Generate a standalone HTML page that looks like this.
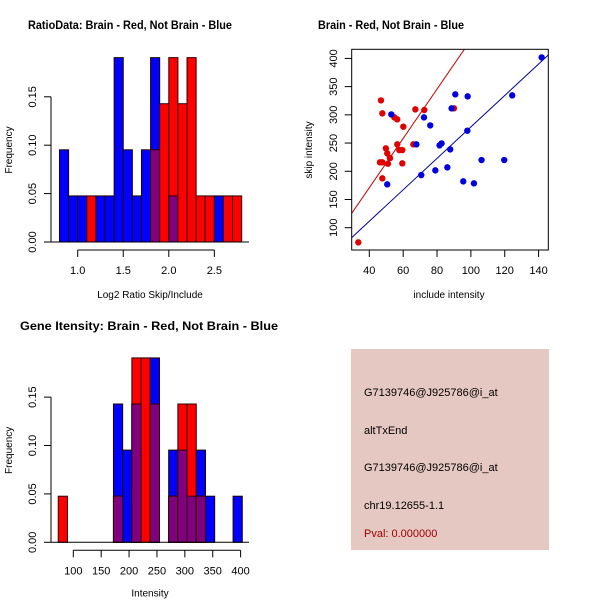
<!DOCTYPE html>
<html><head><meta charset="utf-8"><style>
body{margin:0;background:#fff;}
svg{display:block;font-family:"Liberation Sans",sans-serif;}
</style></head><body>
<svg id="s" width="600" height="600" xmlns="http://www.w3.org/2000/svg">
<rect width="600" height="600" fill="#fff"/>
<text x="28" y="29" font-size="12" font-weight="bold" textLength="204" lengthAdjust="spacingAndGlyphs">RatioData: Brain - Red, Not Brain - Blue</text>
<text x="318" y="29" font-size="12" font-weight="bold" textLength="146" lengthAdjust="spacingAndGlyphs">Brain - Red, Not Brain - Blue</text>
<text x="20" y="330" font-size="12" font-weight="bold" textLength="258" lengthAdjust="spacingAndGlyphs">Gene Itensity: Brain - Red, Not Brain - Blue</text>
<g id="g1"></g>
<g id="g2"></g>
<g id="g3"></g>
<g>
<rect x="351" y="349" width="198" height="201" fill="#e6c8c2"/>
<text x="364" y="396" font-size="11">G7139746@J925786@i_at</text>
<text x="364" y="434" font-size="11">altTxEnd</text>
<text x="364" y="471" font-size="11">G7139746@J925786@i_at</text>
<text x="364" y="509" font-size="11">chr19.12655-1.1</text>
<text x="364" y="537" font-size="11" fill="#a00000">Pval: 0.000000</text>
</g>
</svg>
<script>
// Ratio histogram data (counts out of 21)
const ratioBins = [0.8,0.9,1.0,1.1,1.2,1.3,1.4,1.5,1.6,1.7,1.8,1.9,2.0,2.1,2.2,2.3,2.4,2.5,2.6,2.7];
const ratioBlue = [2,1,1,0,1,1,4,2,1,2,4,0,1,0,0,0,0,1,0,0];
const ratioRed  = [0,0,0,1,0,0,0,0,0,0,2,3,4,3,4,1,1,0,1,1];
const ratioXTicks = [1.0,1.5,2.0,2.5];
const freqTicks = [0,0.05,0.10,0.15];
// Intensity histogram data
const intBins = [73,89.5,106,122.5,139,155.5,172,188.5,205,221.5,238,254.5,271,287.5,304,320.5,337,353.5,370,386.5];
const intBlue = [0,0,0,0,0,0,3,2,3,0,4,0,2,2,1,2,1,0,0,1];
const intRed  = [1,0,0,0,0,0,1,0,4,4,3,0,1,3,3,1,0,0,0,0];
const intXTicks = [100,150,200,250,300,350,400];
// Scatter data
const redInc  = [33.5,46.9,47.7,46.3,47.7,47.7,49.8,50.6,51.0,52.2,54.8,56.5,56.5,57.7,59.5,59.5,60.1,67.2,66,72.5,90];
const redSkip = [74,325.6,302.6,215.8,215.8,187.4,240.6,231.7,213.4,223.4,295.5,292,247.7,237.6,237.6,214,279,309.7,247.7,308.5,311.5];
const blueInc  = [50.6,53,67.8,70.7,72.3,76,79,81.5,82.7,86.1,87.8,88.6,90.8,95.5,97.9,98.1,101.8,106.3,119.7,124.4,141.8];
const blueSkip = [176.8,300.8,247.7,193.3,295.5,281.3,201.6,245.9,249.4,206.9,238.8,311.5,336.3,182.1,271.9,332.7,178.6,219.9,219.9,334.5,401.8];
const redFit = [-4.0,4.37];
const blueFit = [0.0,2.786];
const scXTicks = [40,60,80,100,120,140];
const scYTicks = [100,150,200,250,300,350,400];

const NS="http://www.w3.org/2000/svg";
function mk(p,t,a){const e=document.createElementNS(NS,t);for(const k in a)e.setAttribute(k,a[k]);p.appendChild(e);return e;}
const N=21;
function hist(g,bins,w,blue,red,xs,y0,xticks,xlabel,fmt,xlOff){
  const ys=v=>y0-v*968;
  bins.forEach((b,i)=>{
    const x=xs(b),x2=xs(b+w);
    const hb=blue[i]/N,hr=red[i]/N,m=Math.min(hb,hr);
    if(hb>0){const r=mk(g,'rect',{x:x,y:ys(hb),width:x2-x,height:y0-ys(hb),fill:'#0000ff',stroke:'#200000','stroke-width':1});
      
      }
    if(hr>0){const r=mk(g,'rect',{x:x,y:ys(hr),width:x2-x,height:y0-ys(hr),fill:'#ff0000',stroke:'#300000','stroke-width':1});
      
      }
    if(m>0){const r=mk(g,'rect',{x:x,y:ys(m),width:x2-x,height:y0-ys(m),fill:'#800080',stroke:'#300000','stroke-width':1});
      
      }
  });
  mk(g,'line',{x1:51,y1:y0,x2:249,y2:y0,stroke:'#000'});
  mk(g,'line',{x1:51,y1:ys(0),x2:51,y2:ys(0.15),stroke:'#000'});
  freqTicks.forEach(t=>{const y=ys(t);mk(g,'line',{x1:44,y1:y,x2:51,y2:y,stroke:'#000'});
    const tx=mk(g,'text',{x:36,y:y,'font-size':11,'text-anchor':'middle',transform:`rotate(-90 36 ${y})`});tx.textContent=t.toFixed(2);
    
    });
  const ax=y0+8;
  mk(g,'line',{x1:xs(xticks[0]),y1:ax,x2:xs(xticks[xticks.length-1]),y2:ax,stroke:'#000'});
  xticks.forEach(t=>{const x=xs(t);mk(g,'line',{x1:x,y1:ax,x2:x,y2:ax+7,stroke:'#000'});
    const tx=mk(g,'text',{x:x,y:ax+24,'font-size':11,'text-anchor':'middle'});tx.textContent=fmt(t);
    
    });
  const yl=mk(g,'text',{x:12,y:(y0+ys(0.19))/2,'font-size':10,'text-anchor':'middle',transform:`rotate(-90 12 ${(y0+ys(0.19))/2})`});yl.textContent='Frequency';
  
  
  const xl=mk(g,'text',{x:150,y:y0+xlOff,'font-size':10,'text-anchor':'middle'});xl.textContent=xlabel;
  
  
}
hist(document.getElementById('g1'),ratioBins,0.1,ratioBlue,ratioRed,v=>77.7+(v-1)*91.1,242,ratioXTicks,'Log2 Ratio Skip/Include',t=>t.toFixed(1),56);
hist(document.getElementById('g3'),intBins,16.5,intBlue,intRed,v=>73.3+(v-100)*0.5577,542.3,intXTicks,'Intensity',t=>String(t),54);

// scatter
(function(){
  const g=document.getElementById('g2');
  const xs=v=>369.3+(v-40)*1.693, ys=v=>227.7-(v-100)*0.5643;
  const L=351.7,R=548.3,T=49.3,B=250;
  const cp=mk(g,'clipPath',{id:'cp'});mk(cp,'rect',{x:L,y:T,width:R-L,height:B-T});
  const lines=mk(g,'g',{'clip-path':'url(#cp)'});
  [[redFit,'#c00000','fit-line-red'],[blueFit,'#00008b','fit-line-blue']].forEach(([f,c,n])=>{
    const l=mk(lines,'line',{x1:xs(20),y1:ys(f[0]+f[1]*20),x2:xs(160),y2:ys(f[0]+f[1]*160),stroke:c,'stroke-width':1});
    
    
  });
  redInc.forEach((v,i)=>{const c=mk(g,'circle',{cx:xs(v),cy:ys(redSkip[i]),r:3.2,fill:'#e00000'});
    
    });
  blueInc.forEach((v,i)=>{const c=mk(g,'circle',{cx:xs(v),cy:ys(blueSkip[i]),r:3.2,fill:'#0000e0'});
    
    });
  mk(g,'rect',{x:L,y:T,width:R-L,height:B-T,fill:'none',stroke:'#000'});
  scXTicks.forEach(t=>{const x=xs(t);mk(g,'line',{x1:x,y1:B,x2:x,y2:B+7,stroke:'#000'});
    const tx=mk(g,'text',{x:x,y:B+24,'font-size':11,'text-anchor':'middle'});tx.textContent=t;
    
    });
  scYTicks.forEach(t=>{const y=ys(t);mk(g,'line',{x1:L-7,y1:y,x2:L,y2:y,stroke:'#000'});
    const tx=mk(g,'text',{x:337,y:y,'font-size':11,'text-anchor':'middle',transform:`rotate(-90 337 ${y})`});tx.textContent=t;
    
    });
  const xl=mk(g,'text',{x:449,y:298,'font-size':10,'text-anchor':'middle'});xl.textContent='include intensity';
  
  
  const yl=mk(g,'text',{x:312,y:150,'font-size':10,'text-anchor':'middle',transform:'rotate(-90 312 150)'});yl.textContent='skip intensity';
  
  
})();
</script>
</body></html>
